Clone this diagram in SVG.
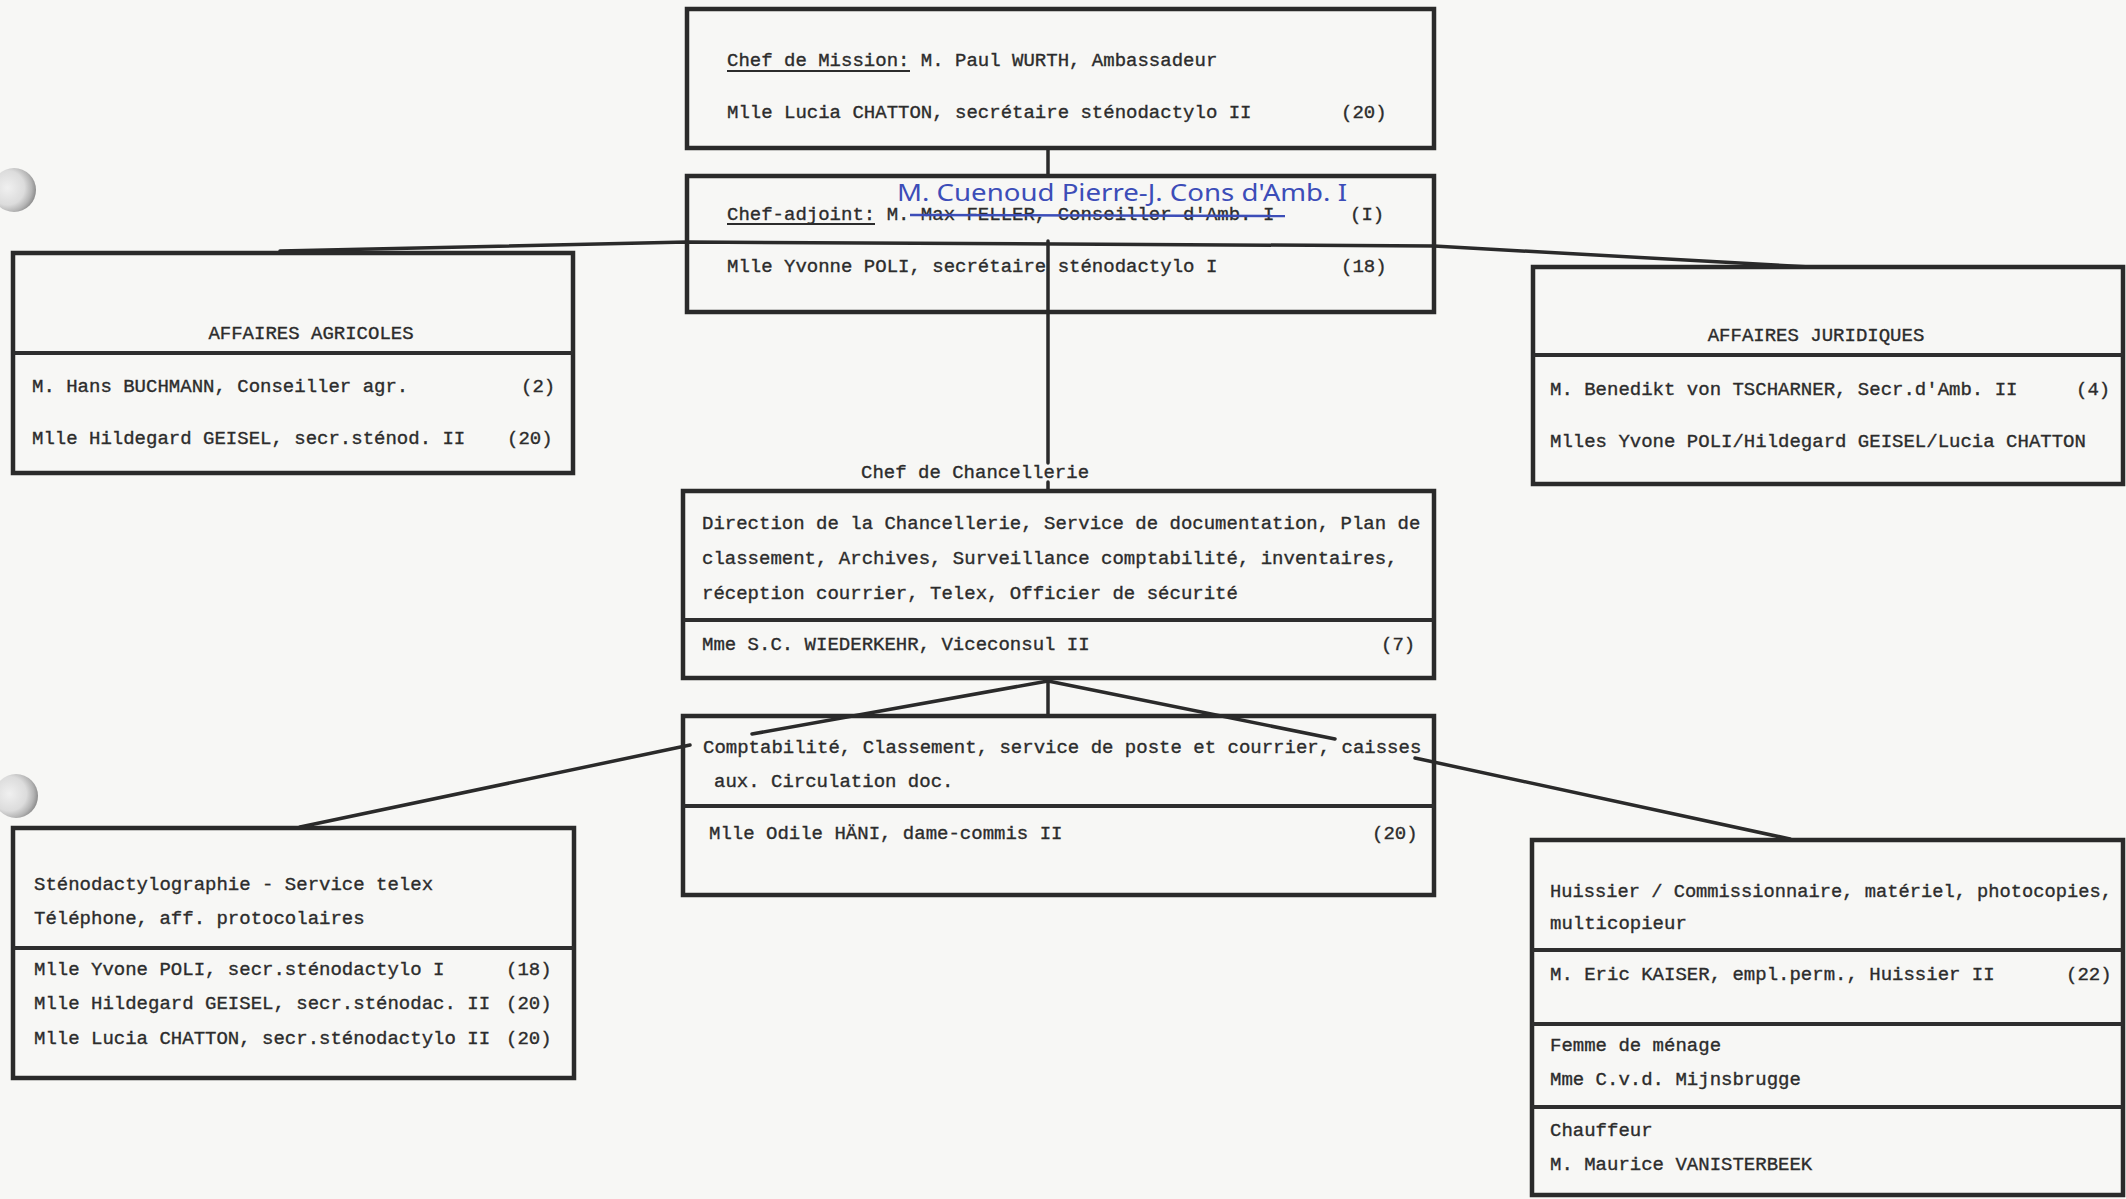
<svg xmlns="http://www.w3.org/2000/svg" width="2126" height="1199" viewBox="0 0 2126 1199">
<defs>
<radialGradient id="hole" cx="0.35" cy="0.45" r="0.65">
<stop offset="0" stop-color="#f0f0f0"/>
<stop offset="0.6" stop-color="#dcdcdc"/>
<stop offset="0.85" stop-color="#b4b4b4"/>
<stop offset="1" stop-color="#8e8e8e"/>
</radialGradient>
</defs>
<style>
.box{fill:none;stroke:#2a2a2a;stroke-width:4.5;stroke-linejoin:miter}
.div{stroke:#2e2e2e;stroke-width:4}
.conn{fill:none;stroke:#2a2a2a;stroke-width:3.5;stroke-linecap:round}
.t{font-family:"Liberation Mono","DejaVu Sans Mono",monospace;font-size:19px;fill:#2c2c2c;stroke:#2c2c2c;stroke-width:0.35}
.ul{stroke:#2c2c2c;stroke-width:2}
.hand{font-family:"Noto Sans","DejaVu Sans",sans-serif;font-size:23px;fill:#3c4db8}
</style>
<rect x="0" y="0" width="2126" height="1199" fill="#f7f7f5"/>
<g id="punch-holes">
<circle cx="14" cy="190" r="22" fill="url(#hole)"/>
<circle cx="16" cy="796" r="22" fill="url(#hole)"/>
</g>
<g id="connectors">
<line class="conn" x1="1048" y1="148" x2="1048" y2="176"/>
<line class="conn" x1="1048" y1="241" x2="1048" y2="463"/>
<line class="conn" x1="1048" y1="482" x2="1048" y2="491"/>
<polyline class="conn" points="280,251 687,242 1434,246 1810,267"/>
<line class="conn" x1="1048" y1="678" x2="1048" y2="716"/>
<line class="conn" x1="1048" y1="681" x2="752" y2="734"/>
<line class="conn" x1="690" y1="745" x2="300" y2="827"/>
<line class="conn" x1="1048" y1="681" x2="1335" y2="739"/>
<line class="conn" x1="1415" y1="758" x2="1790" y2="839"/>
</g>
<g id="chef-mission">
<rect class="box" x="687" y="9" width="747" height="139"/>
<text class="t" x="727" y="66">Chef de Mission:  M. Paul WURTH, Ambassadeur</text>
<line class="ul" x1="727" y1="71" x2="910" y2="71"/>
<text class="t" x="727" y="118">Mlle Lucia CHATTON, secrétaire sténodactylo II</text>
<text class="t" x="1341" y="118">(20)</text>
</g>
<g id="chef-adjoint">
<rect class="box" x="687" y="176" width="747" height="136"/>
<text class="t" x="727" y="220">Chef-adjoint:  M. Max FELLER, Conseiller d'Amb. I</text>
<line class="ul" x1="727" y1="224" x2="875" y2="224"/>
<line x1="910" y1="215" x2="1285" y2="216" stroke="#3c4db8" stroke-width="2.5"/>
<text class="hand" x="897" y="201" textLength="450" lengthAdjust="spacingAndGlyphs">M. Cuenoud Pierre-J. Cons d'Amb. I</text>
<text class="t" x="1350" y="220">(I)</text>
<text class="t" x="727" y="272">Mlle Yvonne POLI, secrétaire sténodactylo I</text>
<text class="t" x="1341" y="272">(18)</text>
</g>
<g id="affaires-agricoles">
<rect class="box" x="13" y="253" width="560" height="220"/>
<line class="div" x1="13" y1="353" x2="573" y2="353"/>
<text class="t" x="311" y="339" text-anchor="middle">AFFAIRES AGRICOLES</text>
<text class="t" x="32" y="392">M. Hans BUCHMANN, Conseiller agr.</text>
<text class="t" x="521" y="392">(2)</text>
<text class="t" x="32" y="444">Mlle Hildegard GEISEL, secr.sténod. II</text>
<text class="t" x="507" y="444">(20)</text>
</g>
<g id="affaires-juridiques">
<rect class="box" x="1533" y="267" width="590" height="217"/>
<line class="div" x1="1533" y1="355" x2="2123" y2="355"/>
<text class="t" x="1816" y="341" text-anchor="middle">AFFAIRES JURIDIQUES</text>
<text class="t" x="1550" y="395">M. Benedikt von TSCHARNER, Secr.d'Amb. II</text>
<text class="t" x="2076" y="395">(4)</text>
<text class="t" x="1550" y="447">Mlles Yvone POLI/Hildegard GEISEL/Lucia CHATTON</text>
</g>
<g id="chancellerie">
<text class="t" x="861" y="478">Chef de Chancellerie</text>
<rect class="box" x="683" y="491" width="751" height="187"/>
<line class="div" x1="683" y1="620" x2="1434" y2="620"/>
<text class="t" x="702" y="529">Direction de la Chancellerie, Service de documentation, Plan de</text>
<text class="t" x="702" y="564">classement, Archives, Surveillance comptabilité, inventaires,</text>
<text class="t" x="702" y="599">réception courrier, Telex, Officier de sécurité</text>
<text class="t" x="702" y="650">Mme S.C. WIEDERKEHR, Viceconsul II</text>
<text class="t" x="1381" y="650">(7)</text>
</g>
<g id="comptabilite">
<rect class="box" x="683" y="716" width="751" height="179"/>
<line class="div" x1="683" y1="806" x2="1434" y2="806"/>
<text class="t" x="703" y="753">Comptabilité, Classement, service de poste et courrier, caisses</text>
<text class="t" x="714" y="787">aux. Circulation doc.</text>
<text class="t" x="709" y="839">Mlle Odile HÄNI, dame-commis II</text>
<text class="t" x="1372" y="839">(20)</text>
</g>
<g id="stenodactylographie">
<rect class="box" x="13" y="828" width="561" height="250"/>
<line class="div" x1="13" y1="948" x2="574" y2="948"/>
<text class="t" x="34" y="890">Sténodactylographie - Service telex</text>
<text class="t" x="34" y="924">Téléphone, aff. protocolaires</text>
<text class="t" x="34" y="975">Mlle Yvone POLI, secr.sténodactylo I</text>
<text class="t" x="506" y="975">(18)</text>
<text class="t" x="34" y="1009">Mlle Hildegard GEISEL, secr.sténodac. II</text>
<text class="t" x="506" y="1009">(20)</text>
<text class="t" x="34" y="1044">Mlle Lucia CHATTON, secr.sténodactylo II</text>
<text class="t" x="506" y="1044">(20)</text>
</g>
<g id="huissier">
<rect class="box" x="1532" y="840" width="591" height="355"/>
<line class="div" x1="1532" y1="950" x2="2123" y2="950"/>
<line class="div" x1="1532" y1="1024" x2="2123" y2="1024"/>
<line class="div" x1="1532" y1="1107" x2="2123" y2="1107"/>
<text class="t" x="1550" y="897" textLength="562" lengthAdjust="spacingAndGlyphs">Huissier / Commissionnaire, matériel, photocopies,</text>
<text class="t" x="1550" y="929">multicopieur</text>
<text class="t" x="1550" y="980">M. Eric KAISER, empl.perm., Huissier II</text>
<text class="t" x="2066" y="980">(22)</text>
<text class="t" x="1550" y="1051">Femme de ménage</text>
<text class="t" x="1550" y="1085">Mme C.v.d. Mijnsbrugge</text>
<text class="t" x="1550" y="1136">Chauffeur</text>
<text class="t" x="1550" y="1170">M. Maurice VANISTERBEEK</text>
</g>
</svg>
